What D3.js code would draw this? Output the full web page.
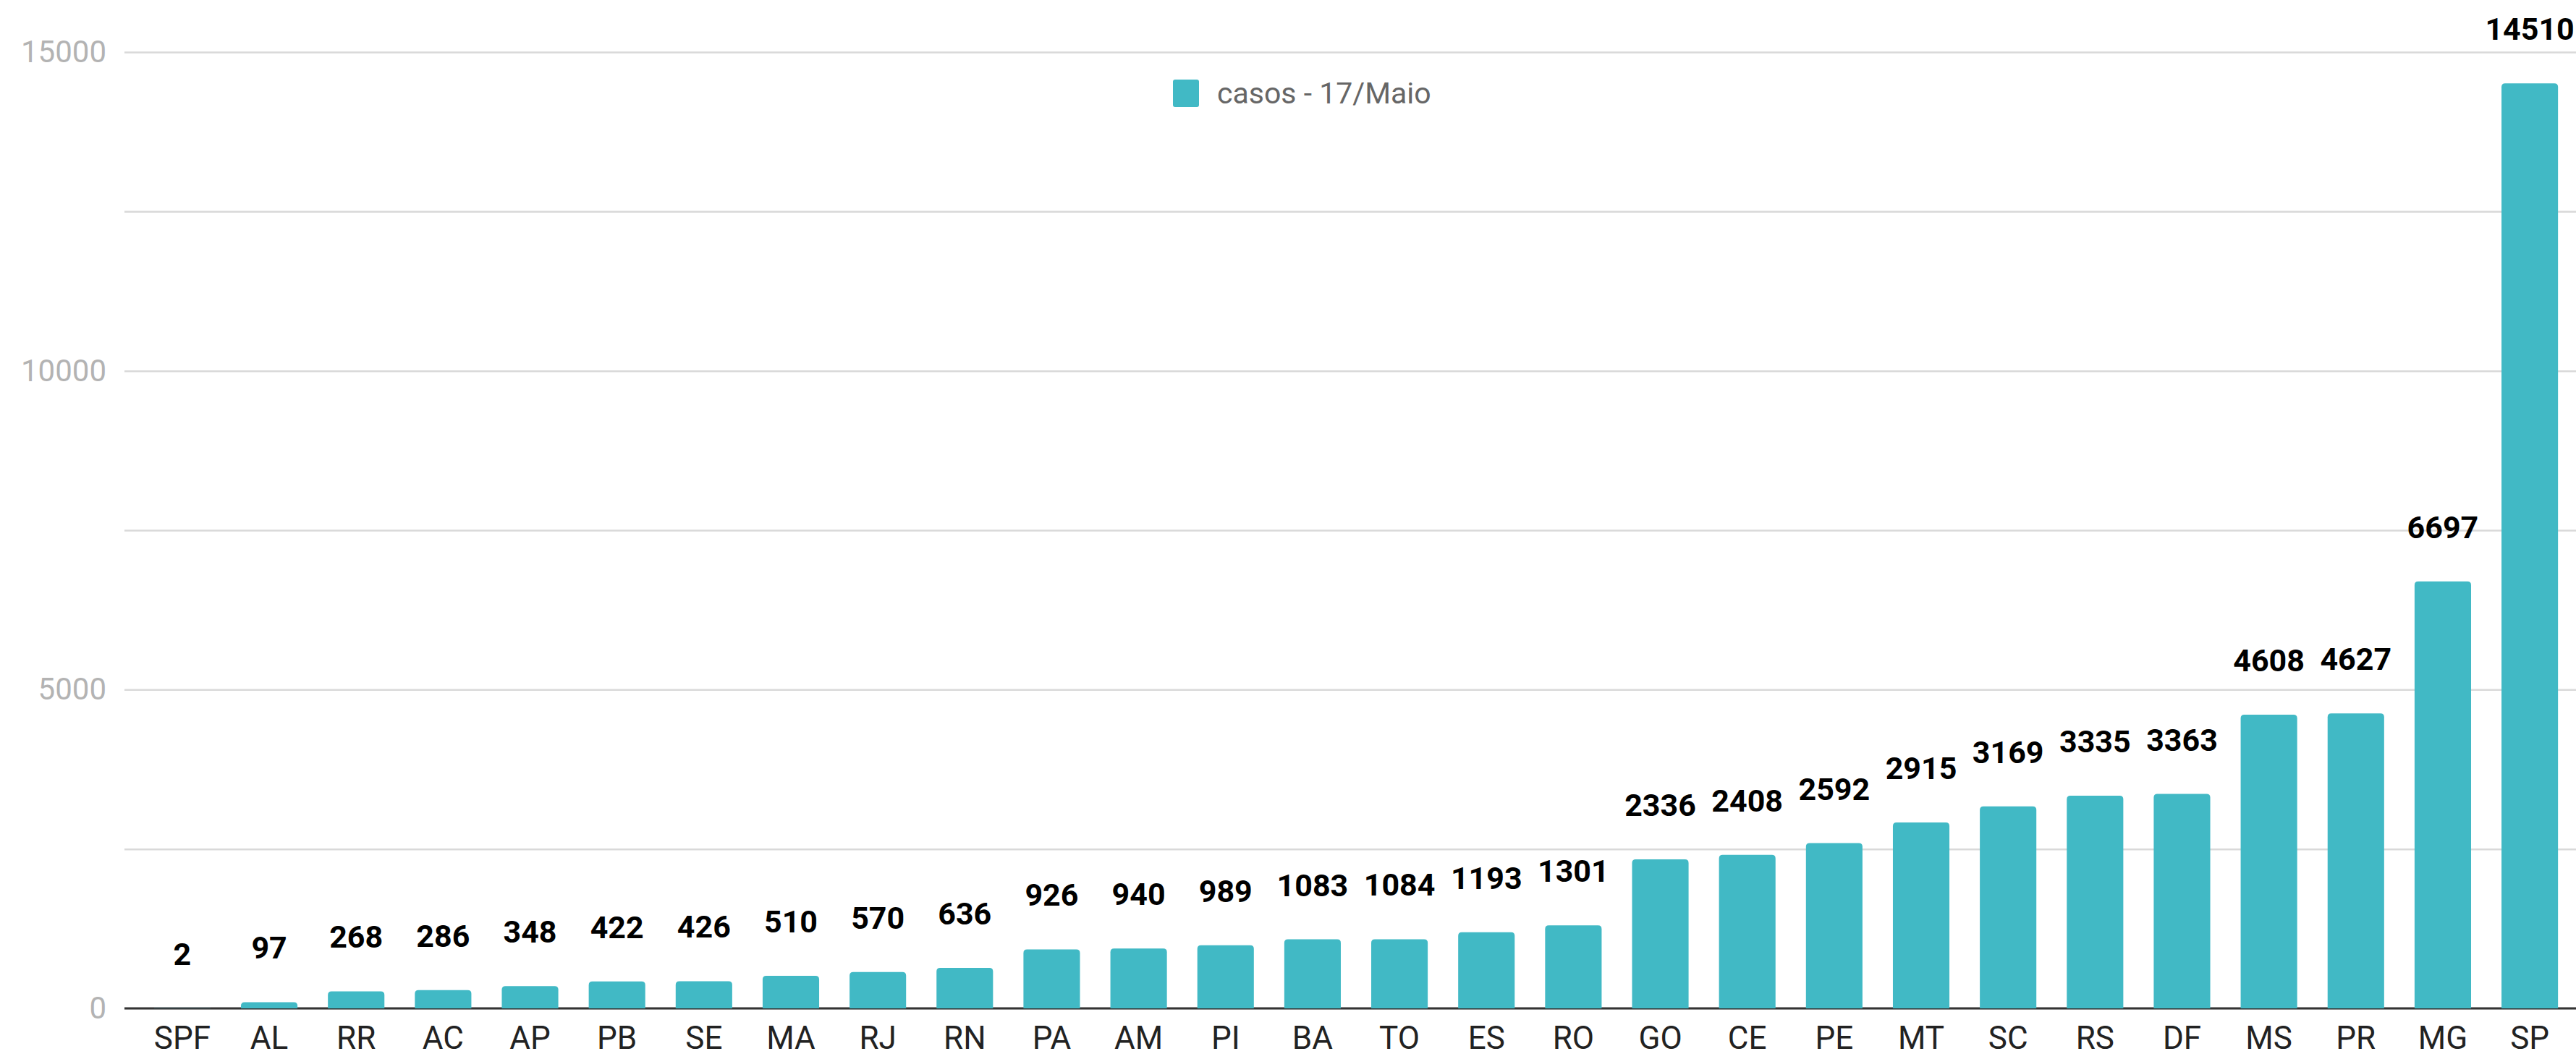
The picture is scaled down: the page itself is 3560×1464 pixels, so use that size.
<!DOCTYPE html>
<html>
<head>
<meta charset="utf-8">
<script src="https://cdn.jsdelivr.net/npm/d3@7"></script>
<style>
    body { margin: 0; background: #fff; }
</style>
</head>
<body>
<div id="chart"></div>
<script>
const estados = ["SPF", "AL", "RR", "AC", "AP", "PB", "SE", "MA", "RJ", "RN", "PA", "AM", "PI", "BA",
    "TO", "ES", "RO", "GO", "CE", "PE", "MT", "SC", "RS", "DF", "MS", "PR", "MG", "SP"];
const casos = [2, 97, 268, 286, 348, 422, 426, 510, 570, 636, 926, 940, 989, 1083,
    1084, 1193, 1301, 2336, 2408, 2592, 2915, 3169, 3335, 3363, 4608, 4627, 6697, 14510];
const yTicks = [0, 5000, 10000, 15000];
const gridTicks = [0, 2500, 5000, 7500, 10000, 12500, 15000];
const serieNome = "casos - 17/Maio";

const width = 3560;
const height = 1464;
const cor = "#41b9c5";

const data = estados.map((e, i) => ({ estado: e, valor: casos[i] }));

const svg = d3.select("#chart").append("svg")
    .attr("width", width)
    .attr("height", height)
    .style("font-family", "Roboto, sans-serif");

const x = d3.scaleBand()
    .domain(estados)
    .range([172, 3576])
    .paddingInner(0.35)
    .paddingOuter(0.34);

const y = d3.scaleLinear()
    .domain([0, 15000])
    .range([1394, 72]);

// grade
svg.append("g")
    .attr("transform", "translate(172,0)")
    .call(d3.axisLeft(y).tickValues(gridTicks).tickSize(-(width - 172)).tickFormat(""))
    .call(g => g.select(".domain").remove())
    .call(g => g.selectAll("line").attr("stroke", "#d9d9d9").attr("stroke-width", 2.5));

// eixo y
svg.append("g")
    .attr("transform", "translate(172,0)")
    .call(d3.axisLeft(y).tickValues(yTicks).tickSize(0).tickPadding(25).tickFormat(d3.format("d")))
    .call(g => g.select(".domain").remove())
    .call(g => g.selectAll("text")
        .attr("font-size", 42)
        .attr("font-family", "Roboto, sans-serif")
        .attr("fill", "#b3b3b3"));

// linha de base
svg.append("line")
    .attr("x1", 172)
    .attr("x2", width)
    .attr("y1", y(0))
    .attr("y2", y(0))
    .attr("stroke", "#333")
    .attr("stroke-width", 3);

function topoArredondado(x0, y0, w, h, r) {
    r = Math.min(r, h, w / 2);
    return `M${x0},${y0 + h}V${y0 + r}Q${x0},${y0} ${x0 + r},${y0}H${x0 + w - r}Q${x0 + w},${y0} ${x0 + w},${y0 + r}V${y0 + h}Z`;
}

svg.append("g")
    .selectAll("path")
    .data(data)
    .join("path")
    .attr("fill", cor)
    .attr("d", d => topoArredondado(x(d.estado), y(d.valor), x.bandwidth(), y(0) - y(d.valor), 5));

// rótulos de valor
svg.append("g")
    .attr("text-anchor", "middle")
    .selectAll("text")
    .data(data)
    .join("text")
    .attr("x", d => x(d.estado) + x.bandwidth() / 2)
    .attr("y", d => y(d.valor) - 60)
    .attr("font-size", 43)
    .attr("font-weight", "bold")
    .attr("fill", "#000")
    .text(d => d.valor);

// eixo x
svg.append("g")
    .attr("transform", "translate(0,1450)")
    .call(d3.axisBottom(x).tickSize(0))
    .call(g => g.select(".domain").remove())
    .call(g => g.selectAll("text")
        .attr("y", 0)
        .attr("dy", null)
        .attr("font-size", 44)
        .attr("font-family", "Roboto, sans-serif")
        .attr("fill", "#222"));

// legenda
const legenda = svg.append("g");
legenda.append("rect")
    .attr("x", 1621)
    .attr("y", 110)
    .attr("width", 36)
    .attr("height", 38)
    .attr("rx", 3)
    .attr("fill", cor);
legenda.append("text")
    .attr("x", 1682)
    .attr("y", 143)
    .attr("font-size", 41)
    .attr("fill", "#666")
    .text(serieNome);
</script>
</body>
</html>
